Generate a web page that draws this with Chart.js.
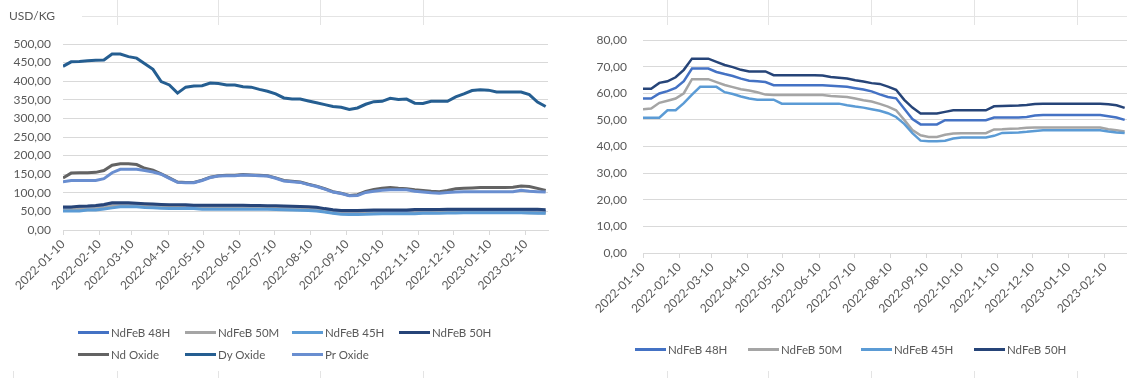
<!DOCTYPE html>
<html>
<head>
<meta charset="utf-8">
<script src="https://cdn.jsdelivr.net/npm/chart.js@4/dist/chart.umd.min.js"></script>
<style>
  body { margin: 0; background: #fff; font-family: Lato, "Open Sans", sans-serif; }
  #page { position: relative; width: 1127px; height: 378px; overflow: hidden; background: #fff; }
  canvas { position: absolute; top: 0; }
  .cell-h { position: absolute; height: 1px; background: #e4e4e4; }
  .cell-v { position: absolute; width: 1px; background: #e4e4e4; }
  .unit { position: absolute; left: 9px; top: 8px; font-size: 12px; color: #595959; }
  .legend { position: absolute; display: grid; font-size: 11.5px; color: #595959; }
  .legend .item { display: flex; align-items: center; height: 22px; white-space: nowrap; }
  .legend i { display: inline-block; width: 31px; height: 3px; margin-right: 2px; }
</style>
</head>
<body>
<div id="page">
  <canvas id="oxideChart" width="560" height="378" style="left:0"></canvas>
  <canvas id="magnetChart" width="557" height="378" style="left:570px"></canvas>
  <div class="unit">USD/KG</div>
  <div class="legend" id="oxideLegend" style="left:78px; top:321px; grid-template-columns: repeat(4, 107px);"></div>
  <div class="legend" id="magnetLegend" style="left:635px; top:338px; grid-template-columns: repeat(4, 113px);"></div>
</div>
<script>
// weekly price points, USD/kg
const weeks = [
  '2022-01-10','2022-01-17','2022-01-24','2022-01-31','2022-02-07','2022-02-14','2022-02-21','2022-02-28',
  '2022-03-07','2022-03-14','2022-03-21','2022-03-28','2022-04-04','2022-04-11','2022-04-18','2022-04-25',
  '2022-05-02','2022-05-09','2022-05-16','2022-05-23','2022-05-30','2022-06-06','2022-06-13','2022-06-20',
  '2022-06-27','2022-07-04','2022-07-11','2022-07-18','2022-07-25','2022-08-01','2022-08-08','2022-08-15',
  '2022-08-22','2022-08-29','2022-09-05','2022-09-12','2022-09-19','2022-09-26','2022-10-03','2022-10-10',
  '2022-10-17','2022-10-24','2022-10-31','2022-11-07','2022-11-14','2022-11-21','2022-11-28','2022-12-05',
  '2022-12-12','2022-12-19','2022-12-26','2023-01-02','2023-01-09','2023-01-16','2023-01-23','2023-01-30',
  '2023-02-06','2023-02-13','2023-02-20','2023-02-27'
];

const monthTicks = [
  '2022-01-10','2022-02-10','2022-03-10','2022-04-10','2022-05-10','2022-06-10','2022-07-10',
  '2022-08-10','2022-09-10','2022-10-10','2022-11-10','2022-12-10','2023-01-10','2023-02-10'
];
const lastDay = '2023-03-01';

const ndfeb48H = [58,58,59.9,60.8,62,64.5,69.3,69.3,69.3,68,
  67.2,66.5,65.5,64.7,64.5,64.2,63,63,63,63,
  63,63,63,62.8,62.6,62.4,61.9,61.4,60.7,59.6,
  58.6,58.1,54.2,50.3,48.3,48.3,48.3,49.9,49.9,49.9,
  49.9,49.9,49.9,50.9,50.9,50.9,50.9,51.1,51.6,51.8,
  51.8,51.8,51.8,51.8,51.8,51.8,51.8,51.4,50.9,50];
const ndfeb50M = [54,54.3,56.4,57.2,58,60,65.3,65.3,65.3,64.2,
  63.1,62.3,61.5,61,60.4,59.5,59.3,59.3,59.3,59.3,
  59.3,59.3,59.3,59,58.8,58.6,58,57.4,56.9,56,
  55,53.6,50,46.2,44.2,43.6,43.6,44.4,44.9,45,
  45,45,45,46.4,46.5,46.7,46.8,47,47.1,47.1,
  47.1,47.1,47.1,47.1,47.1,47.1,47.1,46.5,46.1,45.6];
const ndfeb45H = [50.8,50.8,50.8,53.6,53.6,56.3,59.5,62.4,62.4,62.4,
  60.4,59.7,58.8,58,57.6,57.6,57.6,56.1,56.1,56.1,
  56.1,56.1,56.1,56.1,56.1,55.5,55,54.6,54,53.4,
  52.5,51.1,48.5,45,42.2,42,42,42.2,43,43.4,
  43.4,43.4,43.4,44,45.1,45.2,45.3,45.5,45.8,46.1,
  46.1,46.1,46.1,46.1,46.1,46.1,46.1,45.6,45.3,45.1];
const ndfeb50H = [61.7,61.7,63.9,64.5,66,68.8,73,73,73,71.8,
  70.6,69.8,68.8,68.2,68.2,68.2,66.8,66.8,66.8,66.8,
  66.8,66.8,66.7,66.1,65.8,65.5,64.9,64.4,63.8,63.5,
  62.5,61.3,57.5,54.6,52.4,52.4,52.4,53,53.6,53.6,
  53.6,53.6,53.6,55.1,55.2,55.3,55.4,55.6,56,56.1,
  56.1,56.1,56.1,56.1,56.1,56.1,56.1,55.9,55.5,54.5];
const ndOxide = [140,153,154,154,155,160,174,178,178,176,
  166,161,151,140,129,128,128,134,142,146,
  147,147,149,148,147,146,140,133,131,129,
  123,118,111,103,99,93,95,104,109,112,
  114,112,111,108,106,104,103,106,111,112,
  113,114,114,114,114,115,118,117,112,106];
const dyOxide = [440,452,453,455,456,457,473,473,466,462,
  447,432,399,390,368,384,387,388,395,394,
  390,390,385,384,378,373,366,355,352,352,
  347,342,337,332,330,324,328,338,345,346,
  354,351,352,341,340,346,346,346,358,366,
  375,377,376,371,371,371,371,364,344,332];
const prOxide = [130,133,133,133,133,138,154,163,163,163,
  160,156,150,139,128,127,127,133,141,145,
  146,146,148,147,146,145,139,132,130,128,
  122,117,110,102,98,92,93,101,104,107,
  108,108,108,104,102,100,99,101,102,103,
  103,103,103,103,103,103,107,104,103,102];

const textColor = '#595959';
const gridColor = '#d9d9d9';
const font = { family: 'Lato, "Open Sans", sans-serif', size: 12 };

const dayOf = (d) => (Date.parse(d) - Date.parse(weeks[0])) / 86400000;
const points = (values) => values.map((v, i) => ({ x: dayOf(weeks[i]), y: v }));
const decimalComma = (v) => v.toFixed(2).replace('.', ',');

const magnetSeries = [
  { label: 'NdFeB 48H', data: ndfeb48H, color: '#4472C4' },
  { label: 'NdFeB 50M', data: ndfeb50M, color: '#A5A5A5' },
  { label: 'NdFeB 45H', data: ndfeb45H, color: '#5B9BD5' },
  { label: 'NdFeB 50H', data: ndfeb50H, color: '#264478' }
];
const oxideSeries = magnetSeries.concat([
  { label: 'Nd Oxide', data: ndOxide, color: '#636363' },
  { label: 'Dy Oxide', data: dyOxide, color: '#255E91' },
  { label: 'Pr Oxide', data: prOxide, color: '#698ED0' }
]);

const buildLegend = (id, series) => {
  const box = document.getElementById(id);
  series.forEach(s => {
    const item = document.createElement('span');
    item.className = 'item';
    item.innerHTML = `<i style="background:${s.color}"></i>${s.label}`;
    box.appendChild(item);
  });
};

const createPriceChart = (canvasId, series, cfg) => {
  const ctx = document.getElementById(canvasId).getContext('2d');
  new Chart(ctx, {
    type: 'line',
    data: {
      datasets: series.map((s, i) => ({
        label: s.label,
        data: points(s.data),
        borderColor: s.color,
        backgroundColor: s.color,
        borderWidth: cfg.lineWidth,
        pointRadius: 0,
        tension: 0,
        fill: false,
        order: -i   // later series on top
      }))
    },
    options: {
      responsive: false,
      animation: false,
      devicePixelRatio: 1,
      layout: { padding: cfg.padding },
      plugins: { legend: { display: false }, tooltip: { enabled: false } },
      scales: {
        x: {
          type: 'linear',
          min: 0,
          max: dayOf(lastDay),
          afterBuildTicks: (axis) => {
            axis.ticks = monthTicks.map(d => ({ value: dayOf(d) }));
          },
          afterFit: (axis) => { axis.height = 70; },
          ticks: {
            autoSkip: false,
            minRotation: 45,
            maxRotation: 45,
            padding: 2,
            color: textColor,
            font: font,
            callback: (value, index) => monthTicks[index]
          },
          grid: { drawOnChartArea: false, drawTicks: true, tickLength: 5, color: gridColor },
          border: { color: gridColor }
        },
        y: {
          min: 0,
          max: cfg.yMax,
          afterFit: (axis) => { axis.width = cfg.yWidth; },
          ticks: {
            stepSize: cfg.yStep,
            padding: cfg.labelGap,
            color: textColor,
            font: font,
            callback: (value) => decimalComma(value)
          },
          grid: { color: gridColor, drawTicks: false },
          border: { display: false }
        }
      }
    }
  });
};

createPriceChart('oxideChart', oxideSeries, {
  yMax: 500, yStep: 50, yWidth: 63, labelGap: 12, lineWidth: 3,
  padding: { left: 0, top: 44, right: 12, bottom: 78 }
});
createPriceChart('magnetChart', magnetSeries, {
  yMax: 80, yStep: 10, yWidth: 73, labelGap: 16, lineWidth: 2.5,
  padding: { left: 0, top: 40, right: 0, bottom: 55 }
});

buildLegend('oxideLegend', oxideSeries);
buildLegend('magnetLegend', magnetSeries);

// faint worksheet cell borders around the two charts
const page = document.getElementById('page');
const addLine = (cls, style) => {
  const el = document.createElement('div');
  el.className = cls;
  Object.assign(el.style, style);
  page.appendChild(el);
};
addLine('cell-h', { left: '82px', top: '16px', width: '1045px' });
[117, 218, 320, 423, 667, 768, 871, 974, 1077].forEach(x => {
  addLine('cell-v', { left: x + 'px', top: '0px', height: '25px' });
});
[13, 117, 218, 320, 423, 667, 768, 871, 974, 1077].forEach(x => {
  addLine('cell-v', { left: x + 'px', top: '371px', height: '7px' });
});
</script>
</body>
</html>
